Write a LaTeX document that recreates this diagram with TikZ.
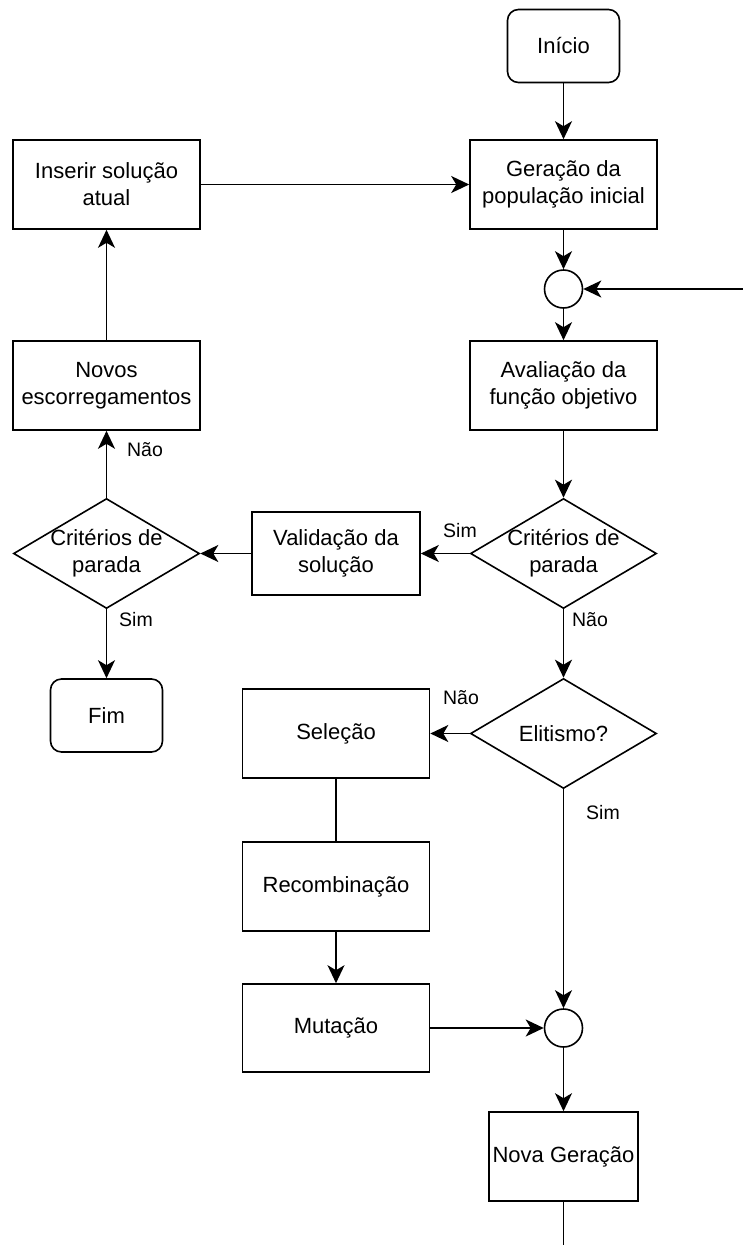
\documentclass[tikz,border=0pt]{standalone}
\usepackage{fontspec}
\setmainfont{Liberation Sans}
\usetikzlibrary{shapes.geometric,arrows.meta}
\begin{document}
\begin{tikzpicture}[x=1pt,y=-1pt,
  font=\fontsize{22}{27}\selectfont,
  box/.style={draw, line width=1.6pt, rectangle, minimum width=187pt, minimum height=89pt, inner sep=0pt, align=center},
  rbox/.style={box, rounded corners=11pt, minimum width=112pt, minimum height=73pt},
  dia/.style={draw, line width=1.6pt, diamond, minimum width=186pt, minimum height=110pt, inner sep=0pt},
  junc/.style={draw, line width=1.6pt, circle, minimum size=38pt, inner sep=0pt},
  arr/.style={line width=1.6pt, -{Stealth[length=18pt,width=17pt,inset=5pt]}},
  ln/.style={line width=1.6pt},
  lab/.style={font=\fontsize{19.5}{23}\selectfont, inner sep=0pt}
]
\fill[white] (0,0) rectangle (743,1245);
\useasboundingbox (0,0) rectangle (743,1245);

% right column
\node[rbox] (inicio) at (563.5,46) {Início};
\node[box] (geracao) at (563.5,184.5) {Geração da\\população inicial};
\node[junc] (c1) at (563.5,289) {};
\node[box] (aval) at (563.5,385.5) {Avaliação da\\função objetivo};
\node[dia, label={[align=center]center:Critérios de\\parada}] (crit1) at (563.5,553.5) {};
\node[dia, label={center:Elitismo?}] (elit) at (563.5,733.5) {};
\node[junc] (c2) at (563.5,1028) {};
\node[box, minimum width=149pt] (nova) at (563.5,1156.5) {Nova Geração};
\coordinate (right) at (743,289);
\coordinate (bottom) at (563.5,1245);

% left column
\node[box] (inserir) at (106.5,184.5) {Inserir solução\\atual};
\node[box] (novos) at (106.5,385.5) {Novos\\escorregamentos};
\node[dia, label={[align=center]center:Critérios de\\parada}] (crit2) at (106.5,553.5) {};
\node[rbox] (fim) at (106.5,715.5) {Fim};

% middle column
\node[box, minimum width=168pt, minimum height=83pt] (valid) at (336,553.5) {Validação da\\solução};
\node[box] (selecao) at (336,733.5) {Seleção};
\node[box] (recomb) at (336,886.5) {Recombinação};
\node[box, minimum height=88pt] (mutacao) at (336,1028) {Mutação};

% connectors
\draw[arr] (inicio) -- (geracao);
\draw[arr] (inserir) -- (geracao);
\draw[arr] (geracao) -- (c1);
\draw[arr] (right) -- (c1);
\draw[arr] (c1) -- (aval);
\draw[arr] (aval) -- (crit1);
\draw[arr] (crit1) -- (valid);
\draw[arr] (valid) -- (crit2);
\draw[arr] (crit2) -- (novos);
\draw[arr] (novos) -- (inserir);
\draw[arr] (crit2) -- (fim);
\draw[arr] (crit1) -- (elit);
\draw[arr] (elit) -- (selecao);
\draw[ln] (selecao) -- (recomb);
\draw[arr] (recomb) -- (mutacao);
\draw[arr] (mutacao) -- (c2);
\draw[arr] (elit) -- (c2);
\draw[arr] (c2) -- (nova);
\draw[ln] (nova) -- (bottom);

% connector labels
\node[lab] (l1) at (460,531) {Sim};
\node[lab] (l2) at (145,450) {Não};
\node[lab] (l3) at (136,620) {Sim};
\node[lab] (l4) at (590,620) {Não};
\node[lab] (l5) at (461,698) {Não};
\node[lab] (l6) at (603,813) {Sim};
\end{tikzpicture}
\end{document}
